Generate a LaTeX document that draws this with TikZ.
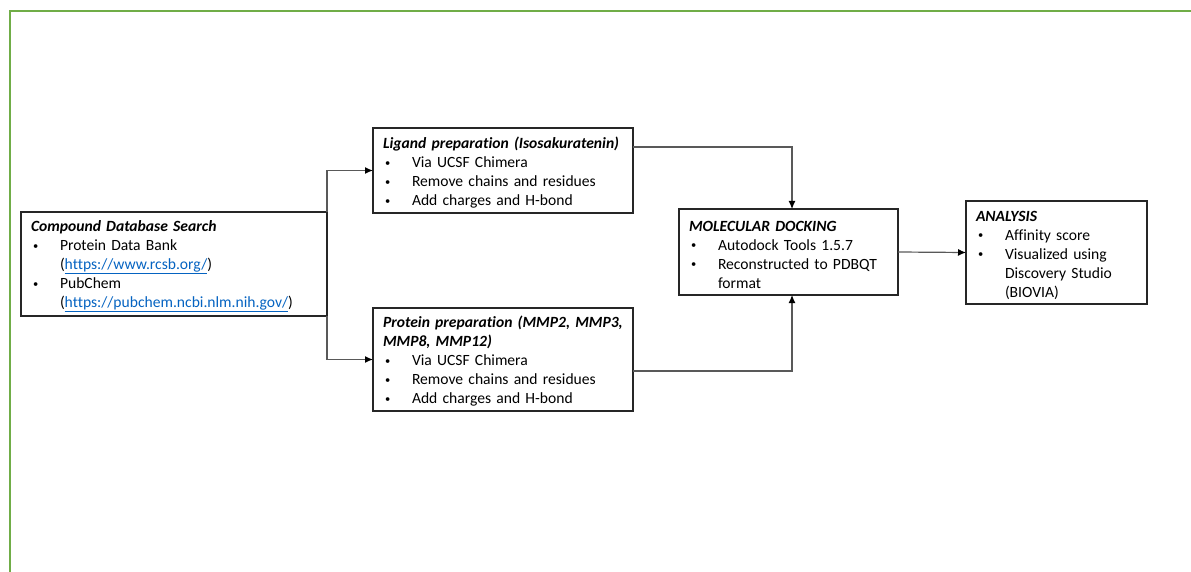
\documentclass[tikz,border=0pt]{standalone}
\usepackage{fontspec}
\setmainfont{Carlito}[Ligatures=NoCommon]
\usetikzlibrary{arrows.meta}
\definecolor{framegreen}{HTML}{70AD47}
\definecolor{linkblue}{HTML}{0563C1}
\newcommand{\ttl}[1]{\mbox{\rule{0pt}{15.5pt}\textbf{\textit{#1}}}}
\newcommand{\bul}[1]{\mbox{\makebox[29pt][l]{\hspace*{2pt}\raisebox{1.3pt}{\fontsize{10.5}{12}\selectfont•}}#1}}
\newcommand{\cont}[1]{\mbox{\hspace*{29pt}#1}}
\newcommand{\lnk}[1]{{\color{linkblue}\underline{#1}}}
\tikzset{
  box/.style={draw=black!85, line width=1.3pt, align=left, inner xsep=10pt,
    inner ysep=0pt, outer sep=0pt, font=\fontsize{15.6}{19}\selectfont},
  conn/.style={draw=black!65, line width=1.2pt, -{Latex[length=8pt,width=7pt,color=black]}},
}
\begin{document}
\begin{tikzpicture}[x=1pt,y=-1pt]
\useasboundingbox (0,0) rectangle (1191,572);
\draw[framegreen, line width=1.3pt] (10,572) -- (10,11) -- (1191,11);

\node[box, minimum width=306pt, minimum height=104pt, text width=286pt] (comp) at (174,264)
  {\ttl{Compound Database Search}\\
   \bul{Protein Data Bank}\\
   \cont{(\lnk{https://www.rcsb.org/})}\\
   \bul{PubChem}\\
   \cont{(\lnk{https://pubchem.ncbi.nlm.nih.gov/})}};

\node[box, minimum width=260pt, minimum height=85pt, text width=240pt] (lig) at (503,170.5)
  {\ttl{Ligand preparation (Isosakuratenin)}\\
   \bul{Via UCSF Chimera}\\
   \bul{Remove chains and residues}\\
   \bul{Add charges and H-bond}};

\node[box, minimum width=260pt, minimum height=103pt, text width=240pt] (prot) at (503,359.5)
  {\ttl{Protein preparation (MMP2, MMP3,}\\
   \mbox{\textbf{\textit{MMP8, MMP12)}}}\\
   \bul{Via UCSF Chimera}\\
   \bul{Remove chains and residues}\\
   \bul{Add charges and H-bond}};

\node[box, minimum width=219pt, minimum height=86pt, text width=199pt] (dock) at (788.5,252)
  {\ttl{MOLECULAR DOCKING}\\
   \bul{Autodock Tools 1.5.7}\\
   \bul{Reconstructed to PDBQT}\\
   \cont{format}};

\node[box, minimum width=181pt, minimum height=103pt, text width=161pt] (ana) at (1056.5,252.5)
  {\ttl{ANALYSIS}\\
   \bul{Affinity score}\\
   \bul{Visualized using}\\
   \cont{Discovery Studio}\\
   \cont{(BIOVIA)}};

\draw[conn] (comp.north east) |- (lig.west);
\draw[conn] (comp.south east) |- (prot.west);
\draw[conn] ([yshift=23.5pt]lig.east) -| ([xshift=3.5pt]dock.north);
\draw[conn] ([yshift=-11.5pt]prot.east) -| ([xshift=3.5pt]dock.south);
\draw[conn] (dock.east) -- (ana.west);
\end{tikzpicture}
\end{document}
